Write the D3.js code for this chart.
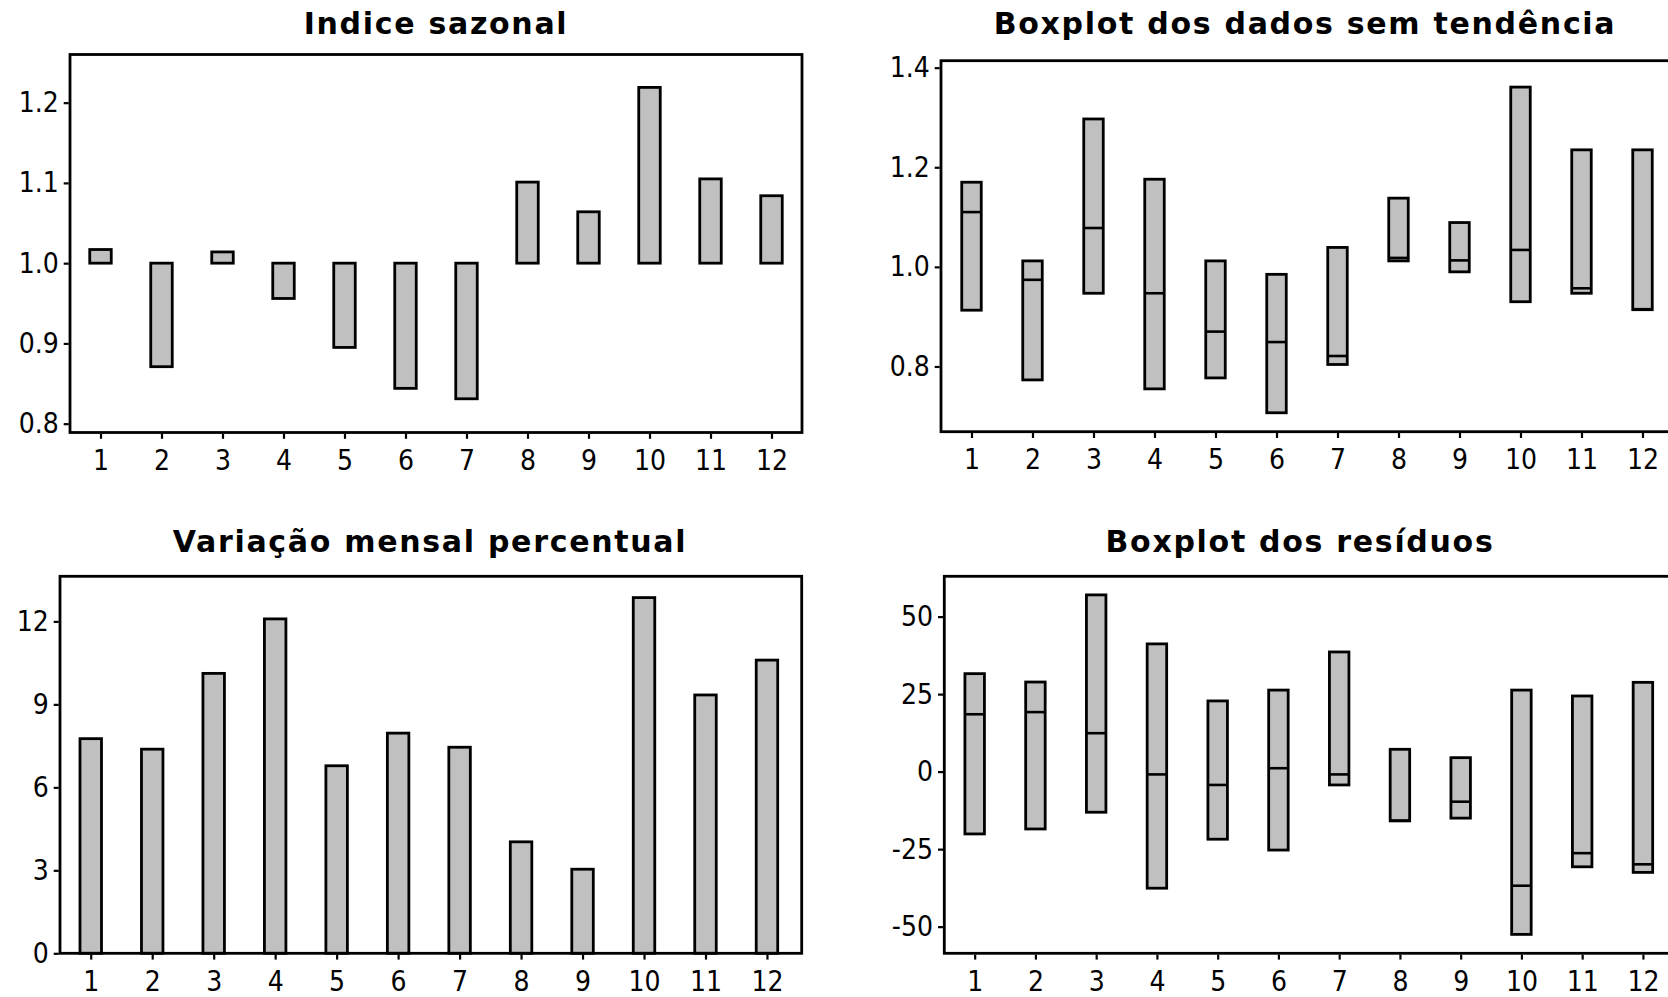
<!DOCTYPE html>
<html>
<head>
<meta charset="utf-8">
<script src="https://cdn.jsdelivr.net/npm/d3@7"></script>
<style>
  html, body { margin: 0; padding: 0; background: #ffffff; }
  svg { display: block; }
  .tick text { font-family: "DejaVu Sans Condensed", "DejaVu Sans", sans-serif; font-stretch: condensed; font-size: 28px; fill: #000; }
  .title { font-family: "DejaVu Sans", sans-serif; font-weight: bold; font-size: 30px; letter-spacing: 1.7px; fill: #000; }
</style>
</head>
<body>
<svg id="chart" width="1668" height="997"></svg>
<script>
// Months 1..12
const months = [1, 2, 3, 4, 5, 6, 7, 8, 9, 10, 11, 12];

// Seasonal index per month (bars drawn from 1.0)
const indiceSazonal = [1.017, 0.871, 1.014, 0.956, 0.895, 0.844, 0.831, 1.101, 1.064, 1.219, 1.105, 1.084];

// Monthly percentage variation
const variacaoMensal = [7.76, 7.38, 10.12, 12.09, 6.78, 7.96, 7.45, 4.03, 3.04, 12.86, 9.34, 10.60];

// Detrended data: quartiles and median per month
const dadosQ1      = [0.913, 0.773, 0.947, 0.755, 0.777, 0.707, 0.804, 1.012, 0.990, 0.930, 0.947, 0.914];
const dadosMediana = [1.110, 0.974, 1.078, 0.947, 0.870, 0.849, 0.821, 1.018, 1.013, 1.034, 0.957, 0.915];
const dadosQ3      = [1.170, 1.012, 1.297, 1.176, 1.012, 0.985, 1.039, 1.138, 1.089, 1.361, 1.235, 1.235];

// Residuals: quartiles and median per month
const residuosQ1      = [-20.1, -18.5, -13.1, -37.6, -21.8, -25.3, -4.3, -15.9, -15.0, -52.5, -30.7, -32.5];
const residuosMediana = [18.5, 19.2, 12.4, -0.9, -4.3, 1.1, -0.9, -15.8, -9.7, -36.8, -26.3, -29.9];
const residuosQ3      = [31.6, 28.9, 57.0, 41.2, 22.8, 26.3, 38.6, 7.2, 4.5, 26.3, 24.4, 28.8];

// Axis tick values
const ticksIndice   = [0.8, 0.9, 1.0, 1.1, 1.2];
const ticksDados    = [0.8, 1.0, 1.2, 1.4];
const ticksVariacao = [0, 3, 6, 9, 12];
const ticksResiduos = [-50, -25, 0, 25, 50];

const svg = d3.select("#chart");
const FILL = "#c0c0c0";

function panel(cfg) {
  const g = svg.append("g");
  const x = d3.scaleLinear().domain(cfg.xDomain).range([cfg.left, cfg.right]);
  const y = d3.scaleLinear().domain(cfg.yDomain).range([cfg.bottom, cfg.top]);

  // marks
  if (cfg.type === "bar") {
    g.selectAll("rect.bar").data(months).enter().append("rect")
      .attr("class", "bar")
      .attr("x", d => x(d) - cfg.markW / 2)
      .attr("width", cfg.markW)
      .attr("y", (d, i) => Math.min(y(cfg.values[i]), y(cfg.base)))
      .attr("height", (d, i) => Math.abs(y(cfg.values[i]) - y(cfg.base)))
      .attr("fill", FILL).attr("stroke", "#000").attr("stroke-width", 2.8);
  } else {
    g.selectAll("rect.box").data(months).enter().append("rect")
      .attr("class", "box")
      .attr("x", d => x(d) - cfg.markW / 2)
      .attr("width", cfg.markW)
      .attr("y", (d, i) => y(cfg.q3[i]))
      .attr("height", (d, i) => y(cfg.q1[i]) - y(cfg.q3[i]))
      .attr("fill", FILL).attr("stroke", "#000").attr("stroke-width", 2.8);
    g.selectAll("line.med").data(months).enter().append("line")
      .attr("class", "med")
      .attr("x1", d => x(d) - cfg.markW / 2)
      .attr("x2", d => x(d) + cfg.markW / 2)
      .attr("y1", (d, i) => y(cfg.median[i]))
      .attr("y2", (d, i) => y(cfg.median[i]))
      .attr("stroke", "#000").attr("stroke-width", 2.6);
  }

  // frame
  g.append("rect")
    .attr("x", cfg.left).attr("y", cfg.top)
    .attr("width", cfg.right - cfg.left).attr("height", cfg.bottom - cfg.top)
    .attr("fill", "none").attr("stroke", "#000").attr("stroke-width", 2.8);

  // axes
  const yAxis = d3.axisLeft(y).tickValues(cfg.yTicks).tickFormat(cfg.fmt)
    .tickSize(5).tickPadding(5);
  const ya = g.append("g").attr("transform", `translate(${cfg.left - 1.3},0)`).call(yAxis);
  ya.select(".domain").remove();
  ya.selectAll(".tick line").attr("stroke-width", 2.2);

  const xAxis = d3.axisBottom(x).tickValues(months).tickFormat(d => String(d))
    .tickSize(5).tickPadding(cfg.xPad);
  const xa = g.append("g").attr("transform", `translate(0,${cfg.bottom + 1.3})`).call(xAxis);
  xa.select(".domain").remove();
  xa.selectAll(".tick line").attr("stroke-width", 2.2);

  // title
  g.append("text").attr("class", "title")
    .attr("x", cfg.titleX).attr("y", cfg.titleY)
    .attr("text-anchor", "middle")
    .text(cfg.title);
}

panel({
  title: "Indice sazonal", titleX: 436, titleY: 34,
  left: 70, right: 802, top: 54.5, bottom: 432.5,
  xDomain: [0.5, 12.5], yDomain: [0.789, 1.260],
  yTicks: ticksIndice, fmt: d3.format(".1f"), xPad: 11,
  type: "bar", base: 1.0, values: indiceSazonal, markW: 21.5
});

panel({
  title: "Boxplot dos dados sem tendência", titleX: 1305, titleY: 34,
  left: 941, right: 1673, top: 60.7, bottom: 431.7,
  xDomain: [0.5, 12.5], yDomain: [0.669, 1.414],
  yTicks: ticksDados, fmt: d3.format(".1f"), xPad: 11,
  type: "box", q1: dadosQ1, median: dadosMediana, q3: dadosQ3, markW: 19.5
});

panel({
  title: "Variação mensal percentual", titleX: 430, titleY: 552,
  left: 60, right: 801.7, top: 576.3, bottom: 953.3,
  xDomain: [0.5, 12.565], yDomain: [0, 13.63],
  yTicks: ticksVariacao, fmt: d => String(d), xPad: 12,
  type: "bar", base: 0, values: variacaoMensal, markW: 21.5
});

panel({
  title: "Boxplot dos resíduos", titleX: 1300, titleY: 552,
  left: 944.3, right: 1673.3, top: 576.3, bottom: 953.3,
  xDomain: [0.5, 12.5], yDomain: [-58.6, 63.0],
  yTicks: ticksResiduos, fmt: d => String(d), xPad: 12,
  type: "box", q1: residuosQ1, median: residuosMediana, q3: residuosQ3, markW: 19.5
});
</script>
</body>
</html>
